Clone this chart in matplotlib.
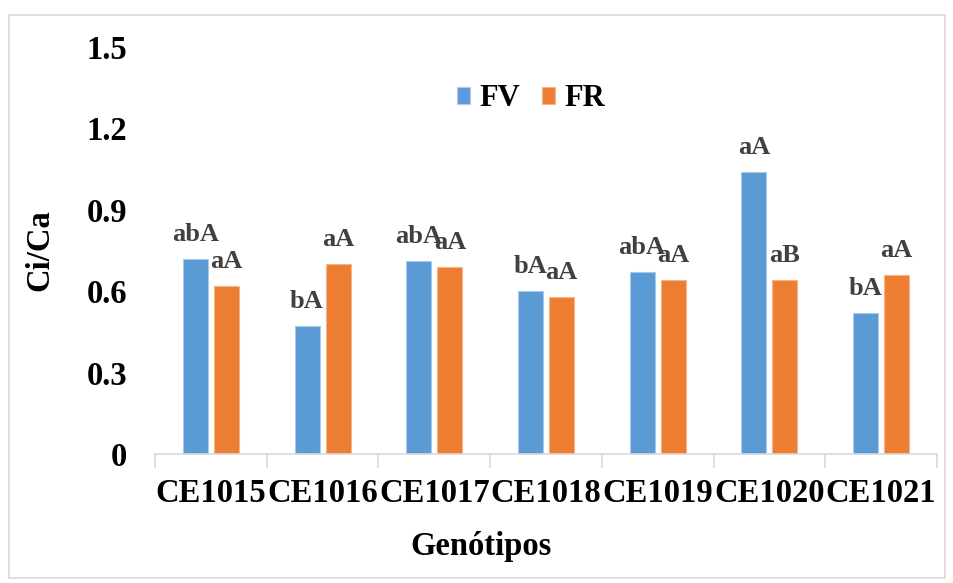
import matplotlib.pyplot as plt
import numpy as np
from matplotlib.patches import Rectangle

genotipos = ["CE1015", "CE1016", "CE1017", "CE1018", "CE1019", "CE1020", "CE1021"]
fv = [0.72, 0.47, 0.71, 0.60, 0.67, 1.04, 0.52]
fr = [0.62, 0.70, 0.69, 0.58, 0.64, 0.64, 0.66]
fv_letras = ["abA", "bA", "abA", "bA", "abA", "aA", "bA"]
fr_letras = ["aA", "aA", "aA", "aA", "aA", "aB", "aA"]
y_ticks = [0, 0.3, 0.6, 0.9, 1.2, 1.5]
y_labels = ["0", "0.3", "0.6", "0.9", "1.2", "1.5"]

plt.rcParams["font.family"] = ["Liberation Serif", "DejaVu Serif"]
plt.rcParams["font.weight"] = "bold"

fig = plt.figure(figsize=(9.54, 5.83), dpi=100)
ax = fig.add_axes([155 / 954, 1 - 454 / 583, 782 / 954, 407 / 583])

x = np.arange(len(genotipos))
w = 0.224
off = 0.139
b1 = ax.bar(x - off, fv, w, color="#5B9BD5", edgecolor="#A9C9EA", linewidth=0.8, label="FV")
b2 = ax.bar(x + off, fr, w, color="#ED7D31", edgecolor="#F5B48A", linewidth=0.8, label="FR")

# letras de significancia acima das barras
for bars, letras in ((b1, fv_letras), (b2, fr_letras)):
    for rect, txt in zip(bars, letras):
        ax.annotate(txt, (rect.get_x() + rect.get_width() / 2, rect.get_height()),
                    xytext=(0, 13), textcoords="offset points",
                    ha="center", va="baseline", fontsize=19,
                    fontweight="bold", color="#404040")

ax.set_xlim(-0.5, len(genotipos) - 0.5)
ax.set_ylim(0, 1.5)
ax.set_yticks(y_ticks)
ax.set_yticklabels(y_labels, fontsize=23.5, fontweight="bold")
ax.tick_params(axis="y", length=0, pad=20)

ax.set_xticks(x)
ax.set_xticklabels(genotipos, fontsize=23.5, fontweight="bold")
ax.set_xticks(np.arange(-0.5, len(genotipos)), minor=True)
ax.tick_params(axis="x", which="major", length=0, pad=17)
ax.tick_params(axis="x", which="minor", length=10, width=1.2, color="#D9D9D9")

for s in ("top", "right", "left"):
    ax.spines[s].set_visible(False)
ax.spines["bottom"].set_color("#D9D9D9")
ax.spines["bottom"].set_linewidth(1.2)

fig.text(40 / 954, 1 - 250 / 583, "Ci/Ca", rotation=90, ha="center", va="center",
         fontsize=23.5, fontweight="bold")
fig.text(481 / 954, 1 - 546 / 583, "Genótipos", ha="center", va="center",
         fontsize=23.5, fontweight="bold")

fig.legend(handles=[b1, b2], loc="center", bbox_to_anchor=(531 / 954, 1 - 99 / 583),
           ncol=2, frameon=False, fontsize=22, handlelength=0.45, handleheight=0.45,
           handletextpad=0.3, columnspacing=0.7, borderpad=0)

fig.add_artist(Rectangle((9 / 954, 1 - 578 / 583), 936 / 954, 563 / 583,
                         transform=fig.transFigure, fill=False,
                         edgecolor="#D9D9D9", linewidth=1.2))

fig.savefig("out.png", dpi=100)
